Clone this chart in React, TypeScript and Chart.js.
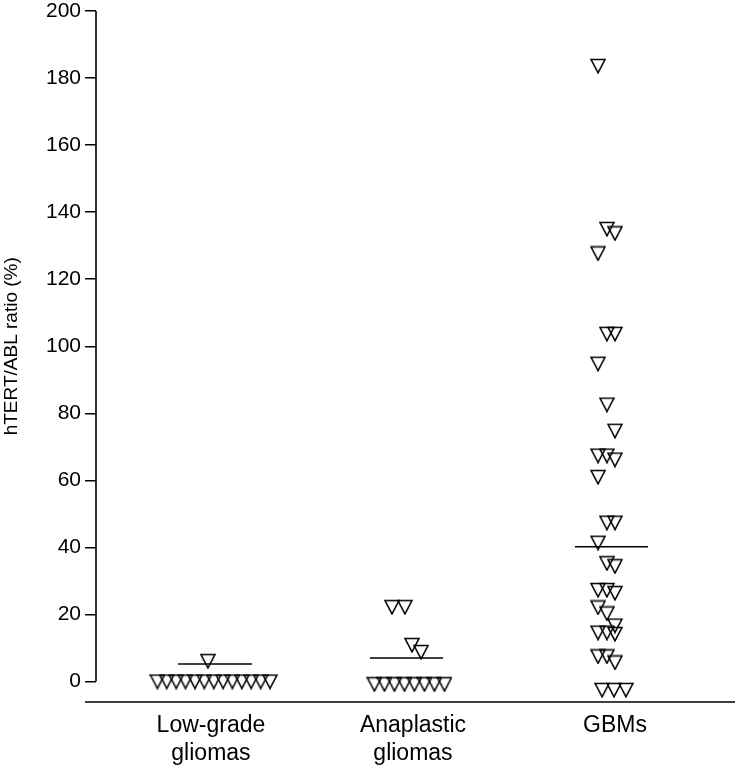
import React, { useEffect, useRef } from "react";
import { Chart, registerables } from "chart.js";

Chart.register(...registerables);

// ---- data ----
const categoryLabels: string[][] = [["Low-grade", "gliomas"], ["Anaplastic", "gliomas"], ["GBMs"]];
const categoryPositions = [1, 2, 3];
const yTickValues = [0, 20, 40, 60, 80, 100, 120, 140, 160, 180, 200];
const yTitle = "hTERT/ABL ratio (%)";

const lowGradeX = [0.735, 0.781, 0.828, 0.874, 0.921, 0.967, 1.014, 1.06, 1.106, 1.153, 1.199, 1.246, 1.292, 0.985];
const lowGradeY = [0, 0, 0, 0, 0, 0, 0, 0, 0, 0, 0, 0, 0, 6.1];

const anaplasticX = [1.809, 1.859, 1.908, 1.958, 2.007, 2.057, 2.106, 2.156, 1.896, 1.96, 1.995, 2.04];
const anaplasticY = [-0.8, -0.8, -0.8, -0.8, -0.8, -0.8, -0.8, -0.8, 22.2, 22.2, 10.9, 8.8];

const gbmX = [
  2.916, 2.96, 3.0, 2.916, 2.96, 3.0, 2.916, 2.96, 3.0, 2.916, 2.96, 3.0, 2.916, 2.96, 3.0, 2.916, 2.96,
  3.0, 2.916, 2.96, 3.0, 2.916, 2.96, 3.0, 2.916, 2.96, 3.0, 2.916, 2.96, 3.0, 2.936, 2.995, 3.054,
];
const gbmY = [
  183.6, 135.0, 133.7, 127.7, 103.7, 103.7, 94.8, 82.6, 74.8, 67.4, 67.4, 66.2, 61.0, 47.4, 47.4, 41.4, 35.3,
  34.4, 27.3, 27.3, 26.4, 22.1, 20.3, 16.7, 14.6, 14.6, 14.2, 7.5, 7.5, 5.7, -2.5, -2.5, -2.5,
];

const meanValues = [5.2, 7.0, 40.2];
const meanStartX = [0.837, 1.787, 2.802];
const meanEndX = [1.203, 2.149, 3.163];

const FONT = "'Liberation Sans', Arial, Helvetica, sans-serif";

function makeTriangle(): HTMLCanvasElement {
  const c = document.createElement("canvas");
  c.width = 16;
  c.height = 16;
  const ctx = c.getContext("2d")!;
  ctx.strokeStyle = "#000";
  ctx.lineWidth = 1.6;
  ctx.lineJoin = "miter";
  ctx.beginPath();
  ctx.moveTo(1, 1.5);
  ctx.lineTo(15, 1.5);
  ctx.lineTo(8, 14.8);
  ctx.closePath();
  ctx.stroke();
  return c;
}

const axisPlugin = {
  id: "axisPlugin",
  beforeDatasetsDraw(chart: any) {
    const { ctx, chartArea, scales } = chart;
    const y = scales.y;
    ctx.save();
    ctx.strokeStyle = "#000";
    ctx.lineWidth = 1.6;
    ctx.beginPath();
    ctx.moveTo(chartArea.left, y.getPixelForValue(200));
    ctx.lineTo(chartArea.left, y.getPixelForValue(0));
    ctx.moveTo(chartArea.left - 11, chartArea.bottom);
    ctx.lineTo(chartArea.right, chartArea.bottom);
    ctx.stroke();
    // y title
    ctx.fillStyle = "#000";
    ctx.font = `19px ${FONT}`;
    ctx.textAlign = "center";
    ctx.textBaseline = "alphabetic";
    ctx.translate(17, y.getPixelForValue(100));
    ctx.rotate(-Math.PI / 2);
    ctx.fillText(yTitle, 0, 0);
    ctx.restore();
  },
};

export default function App() {
  const ref = useRef<HTMLCanvasElement | null>(null);
  useEffect(() => {
    if (!ref.current) return;
    const tri = makeTriangle();
    const pts = (xs: number[], ys: number[]) => xs.map((x, i) => ({ x, y: ys[i] }));
    const pointDs = (data: any[]) => ({
      type: "scatter" as const,
      data,
      pointStyle: tri,
      pointRadius: 8,
      pointHoverRadius: 8,
      borderColor: "#000",
      backgroundColor: "rgba(0,0,0,0)",
      showLine: false,
    });
    const meanDs = meanValues.map((m, i) => ({
      type: "line" as const,
      data: [
        { x: meanStartX[i], y: m },
        { x: meanEndX[i], y: m },
      ],
      borderColor: "#000",
      borderWidth: 1.5,
      pointRadius: 0,
      showLine: true,
      fill: false,
    }));
    const chart = new Chart(ref.current, {
      type: "scatter",
      data: {
        datasets: [
          pointDs(pts(lowGradeX, lowGradeY)),
          pointDs(pts(anaplasticX, anaplasticY)),
          pointDs(pts(gbmX, gbmY)),
          ...meanDs,
        ] as any,
      },
      options: {
        animation: false,
        responsive: false,
        devicePixelRatio: 1,
        layout: { autoPadding: false, padding: { top: 11, right: 2, left: 0, bottom: 0 } },
        plugins: { legend: { display: false }, tooltip: { enabled: false } },
        scales: {
          x: {
            type: "linear",
            min: 0.431,
            max: 3.594,
            border: { display: false },
            grid: { display: false, drawTicks: false },
            afterBuildTicks: (s: any) => {
              s.ticks = categoryPositions.map((v) => ({ value: v }));
            },
            afterFit: (s: any) => {
              s.height = 67;
              s.paddingLeft = 0;
              s.paddingRight = 0;
            },
            ticks: {
              autoSkip: false,
              maxRotation: 0,
              padding: 10,
              color: "#000",
              font: { family: FONT, size: 23, lineHeight: 1.22 },
              callback: (v: any) => {
                const i = categoryPositions.indexOf(Number(v));
                return i >= 0 ? categoryLabels[i] : "";
              },
            },
          },
          y: {
            type: "linear",
            min: -6.1,
            max: 200,
            border: { display: false },
            grid: { drawOnChartArea: false, drawTicks: true, tickLength: 11, color: "#000", lineWidth: 1.5 },
            afterBuildTicks: (s: any) => {
              s.ticks = yTickValues.map((v) => ({ value: v }));
            },
            afterFit: (s: any) => {
              s.width = 96;
              s.paddingTop = 0;
              s.paddingBottom = 0;
            },
            ticks: {
              padding: 4,
              color: "#000",
              font: { family: FONT, size: 21 },
            },
          },
        },
      },
      plugins: [axisPlugin],
    });
    return () => chart.destroy();
  }, []);
  return (
    <div style={{ position: "absolute", left: 0, top: 0, width: 737, height: 769, background: "#fff" }}>
      <canvas ref={ref} width={737} height={769} />
    </div>
  );
}
